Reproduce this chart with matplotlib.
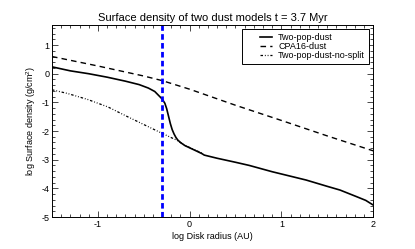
import numpy as np
import matplotlib.pyplot as plt
from matplotlib.ticker import MultipleLocator
from matplotlib.legend_handler import HandlerLine2D

plt.rcParams.update({
    'font.family': ['Liberation Sans', 'DejaVu Sans'],
    'font.size': 6.5,
    'axes.unicode_minus': False,
    'mathtext.fontset': 'custom',
    'mathtext.rm': 'Liberation Sans',
})

# log radius (AU) / log surface density (g/cm^2)
r_two = [-1.5, -1.3, -1.1, -0.9, -0.7, -0.55, -0.45, -0.38, -0.34, -0.3, -0.27,
         -0.25, -0.23, -0.21, -0.19, -0.17, -0.15, -0.13, -0.1, -0.05, 0.05, 0.135,
         0.16, 0.3, 0.5, 0.65, 0.9, 1.27, 1.5, 1.64, 1.82, 1.92, 2.0]
s_two = [0.24, 0.1, 0.0, -0.12, -0.26, -0.38, -0.5, -0.62, -0.75, -0.88, -1.03,
         -1.22, -1.48, -1.74, -1.95, -2.1, -2.22, -2.31, -2.4, -2.51, -2.66, -2.79,
         -2.84, -2.95, -3.09, -3.2, -3.42, -3.71, -3.93, -4.06, -4.29, -4.42, -4.58]

r_cpa = [-1.5, -1.0, -0.5, -0.3, 0.0, 0.5, 1.0, 1.5, 2.0]
s_cpa = [0.6, 0.27, -0.08, -0.24, -0.54, -1.1, -1.63, -2.17, -2.69]

r_nosplit = [-1.5, -1.33, -1.11, -0.89, -0.67, -0.45, -0.3, -0.14, -0.05, 0.05, 0.135]
s_nosplit = [-0.56, -0.69, -0.9, -1.16, -1.51, -1.85, -2.08, -2.32, -2.5, -2.65, -2.77]

r_mark = -0.3


class ShortLine(HandlerLine2D):
    # legend sample drawn only on the right part of the handle box
    def get_xdata(self, legend, xdescent, ydescent, width, height, fontsize):
        x0 = -xdescent + 0.55 * width
        x1 = -xdescent + width
        xd = np.linspace(x0, x1, 2)
        return xd, xd


fig = plt.figure(figsize=(4.15, 2.49), dpi=100)
ax = fig.add_axes([0.1253, 0.1285, 0.7737, 0.7711])

l1, = ax.plot(r_two, s_two, '-', color='black', lw=1.2, label='Two-pop-dust')
l2, = ax.plot(r_cpa, s_cpa, '--', color='black', lw=1.0, dashes=(4, 3), label='CPA16-dust')
l3, = ax.plot(r_nosplit, s_nosplit, color='black', lw=0.9,
              dashes=(2, 1.5, 0.7, 1.5, 0.7, 1.5), label='Two-pop-dust-no-split')
ax.axvline(r_mark, color='#0000ff', lw=2.0, ls=(0, (2, 1.2)))

ax.set_xlim(-1.5, 2)
ax.set_ylim(-5, 1.7)
ax.xaxis.set_major_locator(MultipleLocator(1))
ax.xaxis.set_minor_locator(MultipleLocator(0.1))
ax.yaxis.set_major_locator(MultipleLocator(1))
ax.yaxis.set_minor_locator(MultipleLocator(0.2))
ax.tick_params(which='both', direction='in', top=True, right=True, width=0.5, pad=2)
ax.tick_params(which='major', length=4)
ax.tick_params(which='minor', length=2)
for sp in ax.spines.values():
    sp.set_linewidth(0.7)

ax.set_xlabel('log Disk radius (AU)', labelpad=2)
ax.set_ylabel('log Surface density (g/cm$^2$)', labelpad=2)
ax.set_title('Surface density of two dust models t = 3.7 Myr', fontsize=8, pad=3)

leg = ax.legend(handler_map={l1: ShortLine(), l2: ShortLine(), l3: ShortLine()},
                loc='upper right', fancybox=False, framealpha=1, edgecolor='black',
                fontsize=6.5, handlelength=2.9, handletextpad=0.7, borderpad=0.45,
                labelspacing=0.0, borderaxespad=0.45)
leg.get_frame().set_linewidth(0.7)

fig.savefig('out.png', dpi=100)
